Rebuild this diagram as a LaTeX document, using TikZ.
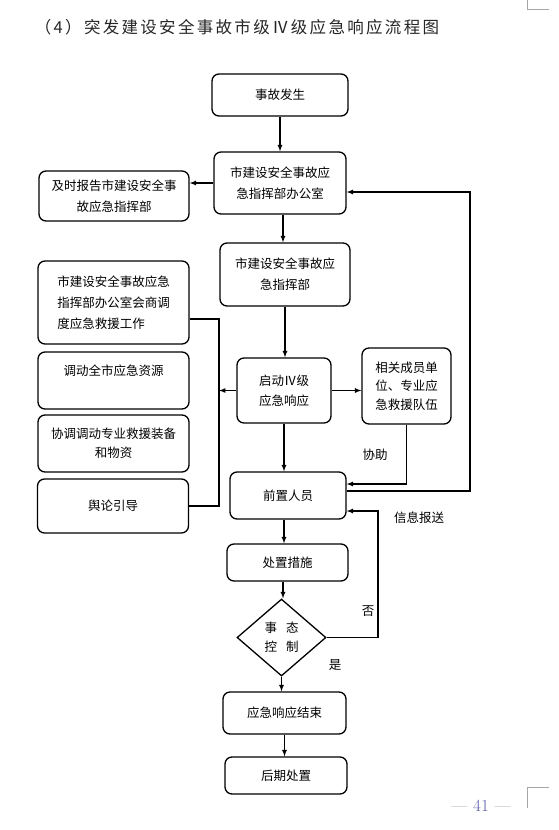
\documentclass[tikz,border=0pt]{standalone}
\usepackage{fontspec}
\usepackage{tikz}
\usetikzlibrary{arrows,shapes.geometric}
\newfontfamily\cjk{Noto Sans CJK SC}
\newfontfamily\cjktitle[LetterSpace=14]{Noto Sans CJK SC}

\begin{document}
\begin{tikzpicture}[x=1pt,y=-1pt,
  box/.style={draw,black,line width=1.3pt,rounded corners=7pt,inner sep=2pt,
    font=\cjk\fontsize{12.5pt}{21pt}\selectfont,align=center},
  lbl/.style={font=\cjk\fontsize{12.5pt}{15pt}\selectfont},
  arr/.style={->,black,>=latex,line width=1.2pt}]
\useasboundingbox (0,0) rectangle (558,830);

\node[font=\cjktitle\fontsize{16.5pt}{20pt}\selectfont,text=black!85] (title) at (237,27) {（4）突发建设安全事故市级Ⅳ级应急响应流程图};

\node[box,minimum width=136pt,minimum height=42pt] (occur) at (280,95) {事故发生};
\node[box,minimum width=132pt,minimum height=62pt] (office) at (280,183) {市建设安全事故应\\急指挥部办公室};
\node[box,minimum width=150pt,minimum height=50pt] (report) at (114,196) {及时报告市建设安全事\\故应急指挥部};
\node[box,minimum width=130pt,minimum height=63pt] (hq) at (285,274.5) {市建设安全事故应\\急指挥部};
\node[box,minimum width=94pt,minimum height=65pt,font=\cjk\fontsize{12.5pt}{20pt}\selectfont] (lvfour) at (284,390.5) {启动Ⅳ级\\应急响应};
\node[box,minimum width=89pt,minimum height=76pt,font=\cjk\fontsize{12.5pt}{18.5pt}\selectfont] (units) at (406.5,386) {相关成员单\\位、专业应\\急救援队伍};
\node[box,minimum width=116pt,minimum height=47pt] (front) at (288,495.5) {前置人员};

\node[box,minimum width=151pt,minimum height=83pt,align=left] (left1) at (113.5,302.5) {市建设安全事故应急\\指挥部办公室会商调\\度应急救援工作};
\node[box,minimum width=151pt,minimum height=57pt] (left2) at (113.5,380.5) {调动全市应急资源\\~};
\node[box,minimum width=151pt,minimum height=57pt,font=\cjk\fontsize{12.5pt}{19pt}\selectfont] (left3) at (113.5,443.5) {协调调动专业救援装备\\和物资};
\node[box,minimum width=151pt,minimum height=54pt] (left4) at (113,506) {舆论引导};

\node[box,minimum width=121pt,minimum height=37pt] (measure) at (287.5,562.5) {处置措施};
\node[draw,black,line width=1.3pt,diamond,inner sep=0pt,minimum width=89pt,minimum height=77pt,
  font=\cjk\fontsize{12.5pt}{19pt}\selectfont,align=center] (ctrl) at (281.5,637.5) {事\hspace{9pt}态\\控\hspace{9pt}制};
\node[box,minimum width=123pt,minimum height=42pt] (finish) at (284.5,713) {应急响应结束};
\node[box,minimum width=122pt,minimum height=37pt] (after) at (286,775.5) {后期处置};

% main line
\path[arr] (occur.south) edge (occur.south |- office.north);
\path[arr] ([xshift=3pt]office.south) edge ([xshift=3pt]office.south |- hq.north);
\path[arr] (office.west) edge (office.west -| report.east);
\path[arr] (hq.south) edge (hq.south |- lvfour.north);
\path[arr] (lvfour.south) edge (lvfour.south |- front.north);
\path[arr] (lvfour.east) edge (lvfour.east -| units.west);
\path[arr] ([xshift=-4pt]front.south) edge ([xshift=-4pt]front.south |- measure.north);
\path[arr] ([xshift=-4.5pt]measure.south) edge ([xshift=-4.5pt]measure.south |- ctrl.north);
\path[arr] (ctrl.south) edge (ctrl.south |- finish.north);
\path[arr] (finish.south) edge (finish.south |- after.north);

% left bracket
\coordinate (brtop) at (219,319);
\coordinate (brbot) at (219,506);
\draw[black,line width=1.2pt] (brtop -| left1.east) -- (brtop) -- (brbot) -- (left4.east);
\path[arr] (lvfour.west) edge (lvfour.west -| brtop);

% help from units
\coordinate (helpc) at (406.5,484);
\draw[arr] (units.south) -- (helpc) -- (helpc -| front.east);
\node[lbl] (help) at (375,455) {协助};

% info report loop
\coordinate (infoa) at (470,491);
\coordinate (infob) at (470,192);
\draw[arr] (infoa -| front.east) -- (infoa) -- (infob) -- (infob -| office.east);

% no loop
\coordinate (noa) at (378,637.5);
\coordinate (nob) at (378,511);
\draw[arr] (ctrl.east) -- (noa) -- (nob) -- (nob -| front.east);
\node[lbl] (info) at (419,518) {信息报送};
\node[lbl] (no) at (368,611) {否};
\node[lbl] (yes) at (335,665) {是};

% page number and crop marks
\node[font=\fontsize{17pt}{19pt}\selectfont,text=black!55] (page) at (481,806) {\textemdash\hspace{6pt}\textcolor{blue!30!gray}{41}\hspace{6pt}\textemdash};
\draw[black!35,line width=0.6pt] (527,0) -- (527,9) -- (549,9);
\draw[black!35,line width=0.6pt] (527,808) -- (527,787) -- (549,787);
\end{tikzpicture}
\end{document}
